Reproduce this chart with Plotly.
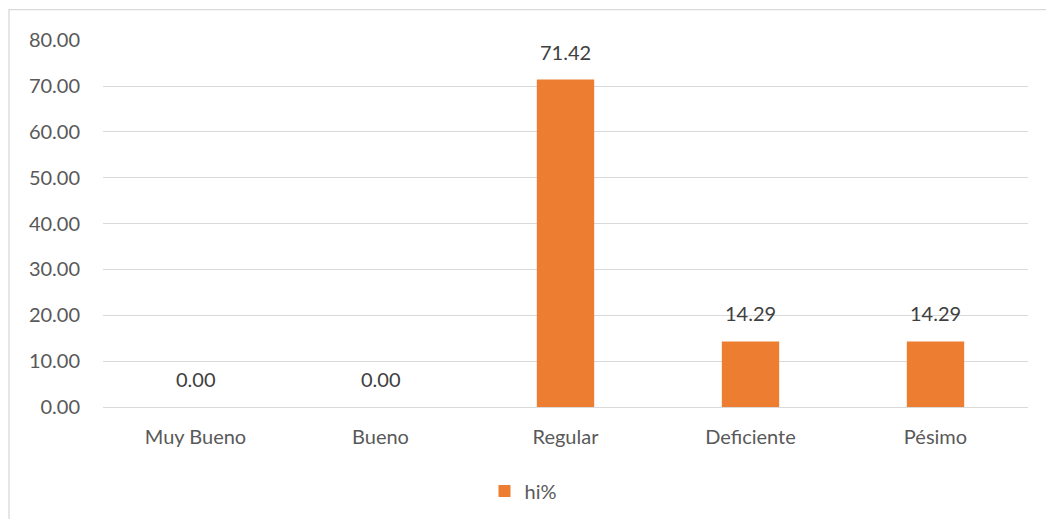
import plotly.graph_objects as go

categories = ["Muy Bueno", "Bueno", "Regular", "Deficiente", "Pésimo"]
values = [0.00, 0.00, 71.42, 14.29, 14.29]
series_name = "hi%"
y_ticks = [0, 10, 20, 30, 40, 50, 60, 70, 80]

ORANGE = "#ED7D31"
GRID = "#D9D9D9"
TEXT = "#595959"
FONT = "Lato"
FS = 20

fig = go.Figure()
fig.add_trace(go.Bar(
    x=categories, y=values, name=series_name,
    marker=dict(color=ORANGE, line=dict(width=0)),
    showlegend=True,
))

for c, v in zip(categories, values):
    fig.add_annotation(x=c, y=v, text=f"{v:.2f}", showarrow=False,
                       yanchor="bottom", yshift=14,
                       font=dict(family=FONT, size=FS, color="#404040"))

fig.add_shape(type="rect", xref="paper", yref="paper",
              x0=-0.1016, x1=1.05, y0=-0.6, y1=1.083,
              line=dict(color=GRID, width=1.3), fillcolor="rgba(0,0,0,0)",
              layer="below")

fig.update_layout(
    width=1046, height=519,
    margin=dict(l=103, r=18, t=40, b=112),
    paper_bgcolor="white", plot_bgcolor="white",
    bargap=0.69,
    font=dict(family=FONT, size=FS, color=TEXT),
    legend=dict(orientation="h", xref="container", x=0.50, xanchor="center",
                yref="container", y=0.054, yanchor="middle",
                font=dict(family=FONT, size=FS, color=TEXT),
                itemwidth=30),
    xaxis=dict(showgrid=False, showline=False, ticks="",
               ticklabelstandoff=16, tickfont=dict(family=FONT, size=FS, color=TEXT)),
    yaxis=dict(range=[0, 80.05], tickvals=y_ticks, tickformat=".2f",
               showgrid=True, gridcolor=GRID, gridwidth=1.3,
               zeroline=True, zerolinecolor=GRID, zerolinewidth=1.3,
               showline=False, ticks="", ticklabelstandoff=22,
               tickfont=dict(family=FONT, size=FS, color=TEXT)),
)

fig.write_html("out.html")
